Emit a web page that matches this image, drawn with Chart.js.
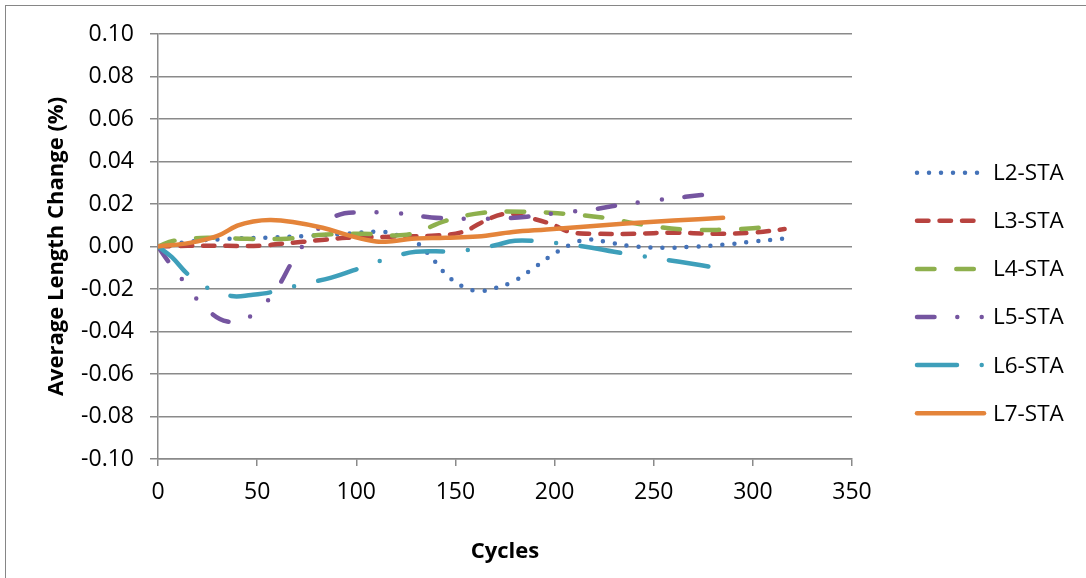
<!DOCTYPE html>
<html>
<head>
<meta charset="utf-8">
<script src="https://cdn.jsdelivr.net/npm/chart.js@4/dist/chart.umd.min.js"></script>
<style>
  html, body { margin: 0; padding: 0; background: #fff; }
  #wrap { position: relative; width: 1086px; height: 578px; overflow: hidden; background: #fff; }
  #frame { position: absolute; left: 5px; top: 5px; width: 1100px; height: 600px; border: 1px solid #868686; box-sizing: border-box; }
  #chart { position: absolute; left: 0; top: 0; }
</style>
</head>
<body>
<div id="wrap">
  <div id="frame"></div>
  <canvas id="chart" width="1086" height="578"></canvas>
</div>
<script>
// Length change of each specimen over the cycle count
const seriesNames = ['L2-STA', 'L3-STA', 'L4-STA', 'L5-STA', 'L6-STA', 'L7-STA'];

const l2Cycles = [0, 18, 36, 55, 75, 95, 113, 122, 130, 138, 146, 154, 162, 170, 179, 189, 199, 209, 217, 226, 238, 255, 270, 285, 300, 315];
const l2Values = [0, 0.0025, 0.0036, 0.0042, 0.005, 0.006, 0.0069, 0.005, 0.0022, -0.0053, -0.0138, -0.019, -0.021, -0.0196, -0.0166, -0.0105, -0.0039, 0.0013, 0.0033, 0.0022, 0.0003, -0.0006, -0.0001, 0.0008, 0.0023, 0.0037];

const l3Cycles = [0, 15, 35, 52, 62, 73, 84, 95, 117, 140, 154, 163, 175, 186, 198, 208, 221, 240, 260, 280, 300, 316];
const l3Values = [0, 0.0003, 0.0003, 0.0004, 0.0013, 0.0022, 0.0032, 0.0041, 0.0046, 0.0052, 0.0069, 0.0112, 0.0154, 0.0137, 0.0107, 0.0068, 0.006, 0.006, 0.0065, 0.006, 0.0065, 0.0082];

const l4Cycles = [0, 8, 25, 45, 65, 83, 103, 120, 130, 145, 164, 184, 205, 225, 245, 265, 286, 300, 311];
const l4Values = [0, 0.0027, 0.0041, 0.0036, 0.0037, 0.0055, 0.006, 0.0052, 0.0065, 0.0121, 0.0159, 0.0164, 0.0154, 0.0135, 0.0102, 0.008, 0.0079, 0.0086, 0.0097];

const l5Cycles = [0, 4, 12, 22, 35, 48, 60, 68, 76, 90, 106, 121, 138, 154, 170, 186, 202, 218, 234, 250, 266, 282];
const l5Values = [0, -0.0055, -0.0153, -0.0271, -0.0353, -0.032, -0.0195, -0.0067, 0.0036, 0.0145, 0.016, 0.0157, 0.0137, 0.0131, 0.0131, 0.014, 0.0159, 0.0173, 0.0197, 0.0216, 0.0234, 0.025];

const l6Cycles = [0, 7, 15, 25, 37, 47, 57, 73, 87, 105, 117, 130, 148, 160, 170, 180, 192, 205, 218, 230, 243, 263, 285];
const l6Values = [0, -0.005, -0.013, -0.0195, -0.0233, -0.0228, -0.0215, -0.0176, -0.0148, -0.0091, -0.0053, -0.0025, -0.0023, -0.0012, 0.0006, 0.0027, 0.0024, 0.0012, -0.0005, -0.0025, -0.0044, -0.0072, -0.0105];

const l7Cycles = [0, 16, 30, 40, 48, 57, 68, 83, 97, 110, 118, 128, 145, 161, 179, 196, 213, 236, 260, 285];
const l7Values = [0, 0.0017, 0.005, 0.0098, 0.0118, 0.0125, 0.0115, 0.0088, 0.005, 0.0024, 0.0025, 0.0036, 0.0041, 0.0047, 0.0068, 0.008, 0.0092, 0.0108, 0.0122, 0.0135];

const xTickValues = [0, 50, 100, 150, 200, 250, 300, 350];
const yTickValues = [-0.10, -0.08, -0.06, -0.04, -0.02, 0.00, 0.02, 0.04, 0.06, 0.08, 0.10];

const allCycles = [l2Cycles, l3Cycles, l4Cycles, l5Cycles, l6Cycles, l7Cycles];
const allValues = [l2Values, l3Values, l4Values, l5Values, l6Values, l7Values];

const colors = ['#4472b8', '#b8433f', '#8eb04d', '#7555a0', '#3e9fba', '#e4843a'];
const dashes = [
  [0, 12],
  [11.5, 11],
  [17.5, 21.8],
  [17.5, 22.8, 0, 24.4, 0, 22.8],
  [40, 24.7, 0, 24.7],
  []
];
const LINE_W = 4.5;
const FONT = '"Open Sans", "DejaVu Sans", sans-serif';

const datasets = seriesNames.map((name, i) => ({
  label: name,
  data: allCycles[i].map((c, j) => ({ x: c, y: allValues[i][j] })),
  borderColor: colors[i],
  backgroundColor: colors[i],
  borderWidth: LINE_W,
  borderDash: dashes[i],
  borderCapStyle: 'round',
  borderJoinStyle: 'round',
  pointRadius: 0,
  pointHoverRadius: 0,
  tension: 0.4,
  fill: false,
  order: seriesNames.length - 1 - i
}));

// Legend on the right: a short styled line sample followed by the series name
const sideLegend = {
  id: 'sideLegend',
  afterDraw(chart) {
    const ctx = chart.ctx;
    const area = chart.chartArea;
    const x0 = area.right + 65;
    const x1 = x0 + 67;
    const y0 = 172.7;
    const step = 48.1;
    ctx.save();
    chart.data.datasets.forEach((ds, i) => {
      const y = y0 + i * step;
      ctx.beginPath();
      ctx.strokeStyle = ds.borderColor;
      ctx.lineWidth = ds.borderWidth;
      ctx.lineCap = 'round';
      ctx.setLineDash(ds.borderDash);
      ctx.moveTo(x0, y);
      ctx.lineTo(x1, y);
      ctx.stroke();
      ctx.setLineDash([]);
      ctx.fillStyle = '#000';
      ctx.font = '22.5px ' + FONT;
      ctx.textAlign = 'left';
      ctx.textBaseline = 'middle';
      ctx.fillText(ds.label, x1 + 9, y + 1);
    });
    ctx.restore();
  }
};

new Chart(document.getElementById('chart'), {
  type: 'line',
  data: { datasets },
  options: {
    responsive: false,
    animation: false,
    events: [],
    layout: { padding: { left: 0, top: 34, right: 234, bottom: 0 } },
    plugins: { legend: { display: false }, tooltip: { enabled: false } },
    scales: {
      x: {
        type: 'linear',
        min: 0,
        max: 350,
        afterBuildTicks(scale) { scale.ticks = xTickValues.map(v => ({ value: v })); },
        afterFit(scale) { scale.height = 119; },
        border: { display: true, color: '#8a8a8a', width: 1.5 },
        grid: { display: true, drawOnChartArea: false, drawTicks: true, tickLength: 7, color: '#8a8a8a', lineWidth: 1.5 },
        ticks: { color: '#000', font: { family: FONT, size: 23 }, padding: 13, maxRotation: 0, autoSkip: false },
        title: { display: true, text: 'Cycles', color: '#000', font: { family: FONT, size: 22, weight: 'bold' }, padding: { top: 0, bottom: 13 } }
      },
      y: {
        type: 'linear',
        min: -0.1,
        max: 0.1,
        afterBuildTicks(scale) { scale.ticks = yTickValues.map(v => ({ value: v })); },
        afterFit(scale) { scale.width = 158; },
        border: { display: true, color: '#8a8a8a', width: 1.5 },
        grid: { display: true, drawTicks: true, tickLength: 8, color: '#8a8a8a', lineWidth: 1.5 },
        ticks: {
          color: '#000',
          font: { family: FONT, size: 23 },
          padding: 16,
          autoSkip: false,
          callback: v => (Math.abs(v) < 1e-9 ? 0 : v).toFixed(2)
        },
        title: { display: true, text: 'Average Length Change (%)', color: '#000', font: { family: FONT, size: 22, weight: 'bold' }, padding: { top: 44, bottom: 0 } }
      }
    }
  },
  plugins: [sideLegend]
});
</script>
</body>
</html>
